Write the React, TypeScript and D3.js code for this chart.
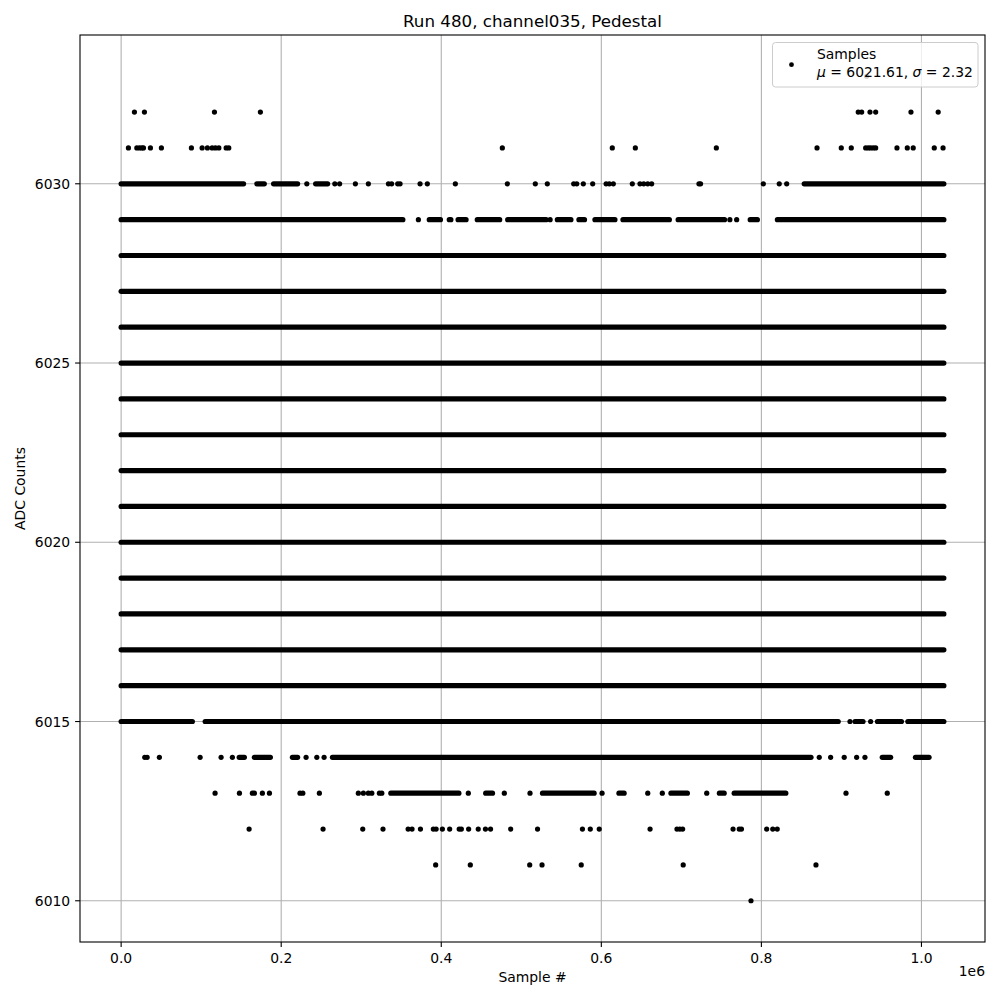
import React from "react";
import * as d3 from "d3";

// ---------- data (sample index, ADC level) ----------
const N_SAMPLES = 1028000;
const xTicks = [0, 200000, 400000, 600000, 800000, 1000000];
const xTickLabels = ["0.0", "0.2", "0.4", "0.6", "0.8", "1.0"];
const yTicks = [6010, 6015, 6020, 6025, 6030];
const title = "Run 480, channel035, Pedestal";
const legendLabel = "Samples";
const meanValue = "6021.61";
const sigmaValue = "2.32";

// levels whose samples form a continuous band across the whole run
const fullRows = [6016, 6017, 6018, 6019, 6020, 6021, 6022, 6023, 6024, 6025, 6026, 6027, 6028];

// dense stretches [start, end] and isolated samples for the remaining levels
const runs6030: [number, number][] = [[0, 153000], [169600, 178900], [190500, 220500], [243000, 258000], [853500, N_SAMPLES]];
const points6030 = [232000, 267000, 273000, 292700, 308900, 334000, 338000, 345600, 348500, 373500, 382600, 417600, 482600, 517500, 532500, 565500, 569300, 577500, 589200, 606000, 610000, 615000, 638700, 648300, 653000, 658000, 662900, 722000, 724000, 802400, 822300, 831600];

const runs6029: [number, number][] = [[0, 352000], [385000, 399000], [410000, 412000], [421000, 431000], [445000, 473000], [483000, 531000], [545000, 562000], [572000, 579000], [592000, 617000], [627000, 685000], [696000, 754000], [786000, 795000], [820000, N_SAMPLES]];
const points6029 = [371400, 536000, 760600, 769100];

const runs6015: [number, number][] = [[0, 89000], [105000, 896000], [917000, 927000], [945000, 975000], [983000, N_SAMPLES]];
const points6015 = [910700, 936500];

const runs6014: [number, number][] = [[147500, 154000], [166500, 186500], [214000, 220500], [264000, 862000], [951000, 961500], [992500, 1009500]];
const points6014 = [29500, 32500, 47800, 98700, 124900, 139000, 231100, 244500, 253600, 872300, 886500, 903500, 919000, 929400];

const runs6013: [number, number][] = [[164000, 166500], [337000, 422000], [455500, 464000], [526500, 591000], [622000, 628500], [687000, 707500], [747500, 753500], [766000, 830500]];
const points6013 = [117400, 147800, 176500, 185300, 223500, 227000, 247700, 296400, 302700, 308900, 313200, 322700, 325700, 433800, 478800, 510900, 600900, 658000, 676200, 731700, 905700, 957300];

const points6012 = [159900, 252300, 301900, 327200, 358600, 363500, 374000, 390100, 393600, 401400, 410500, 422400, 425100, 434200, 446200, 455200, 461600, 486700, 520300, 576400, 586200, 597400, 660900, 694500, 698100, 701600, 764600, 772300, 775100, 806600, 814200, 819800];
const points6011 = [393000, 436300, 510500, 525900, 574900, 702300, 868200];
const points6010 = [787000];

const points6031 = [9100, 19600, 22900, 25900, 27900, 36600, 50300, 87800, 101200, 107800, 113700, 117800, 122100, 131200, 134500, 476300, 613700, 642500, 743700, 869500, 899800, 912300, 930300, 933500, 936500, 939800, 942800, 969400, 982300, 989700, 1016000, 1027000];
const points6032 = [16600, 29100, 116600, 174000, 921000, 925300, 935700, 942800, 986900, 1020900];
const points6033 = [931500];

type Row = { level: number; runs: [number, number][]; points: number[] };
const rows: Row[] = [
  ...fullRows.map((level) => ({ level, runs: [[0, N_SAMPLES]] as [number, number][], points: [] as number[] })),
  { level: 6030, runs: runs6030, points: points6030 },
  { level: 6029, runs: runs6029, points: points6029 },
  { level: 6015, runs: runs6015, points: points6015 },
  { level: 6014, runs: runs6014, points: points6014 },
  { level: 6013, runs: runs6013, points: points6013 },
  { level: 6012, runs: [], points: points6012 },
  { level: 6011, runs: [], points: points6011 },
  { level: 6010, runs: [], points: points6010 },
  { level: 6031, runs: [], points: points6031 },
  { level: 6032, runs: [], points: points6032 },
  { level: 6033, runs: [], points: points6033 },
];

// ---------- layout ----------
const W = 1000, H = 1000;
const L = 80, R = 985, T = 35, B = 942;
const FONT = "DejaVu Sans, sans-serif";
const FS = 13.9;
const DOT_R = 2.6;

export default function App() {
  const x = d3.scaleLinear().domain([-0.05 * N_SAMPLES, 1.05 * N_SAMPLES]).range([L, R]);
  const y = d3.scaleLinear().domain([6008.85, 6034.15]).range([B, T]);
  const grid = "#b0b0b0";

  return (
    <svg width={W} height={H} style={{ position: "absolute", left: 0, top: 0, background: "#fff" }} fontFamily={FONT}>
      <rect x={0} y={0} width={W} height={H} fill="#fff" />
      {/* grid */}
      {xTicks.map((t) => (
        <line key={"gx" + t} x1={x(t)} x2={x(t)} y1={T} y2={B} stroke={grid} strokeWidth={1.1} />
      ))}
      {yTicks.map((t) => (
        <line key={"gy" + t} x1={L} x2={R} y1={y(t)} y2={y(t)} stroke={grid} strokeWidth={1.1} />
      ))}
      {/* data */}
      <g>
        {rows.map((row) => (
          <g key={"r" + row.level}>
            {row.runs.map(([a, b], i) => (
              <line key={"l" + i} x1={x(a)} x2={x(b)} y1={y(row.level)} y2={y(row.level)} stroke="#000" strokeWidth={DOT_R * 2} strokeLinecap="round" />
            ))}
            {row.points.map((p, i) => (
              <circle key={"p" + i} cx={x(p)} cy={y(row.level)} r={DOT_R} fill="#000" />
            ))}
          </g>
        ))}
      </g>
      {/* frame */}
      <rect x={L} y={T} width={R - L} height={B - T} fill="none" stroke="#000" strokeWidth={1.1} />
      {/* x ticks */}
      {xTicks.map((t, i) => (
        <g key={"xt" + t}>
          <line x1={x(t)} x2={x(t)} y1={B} y2={B + 4.9} stroke="#000" strokeWidth={1.1} />
          <text x={x(t)} y={B + 20.5} textAnchor="middle" fontSize={FS} fill="#000">{xTickLabels[i]}</text>
        </g>
      ))}
      <text x={R} y={B + 34} textAnchor="end" fontSize={FS} fill="#000">1e6</text>
      {/* y ticks */}
      {yTicks.map((t) => (
        <g key={"yt" + t}>
          <line x1={L - 4.9} x2={L} y1={y(t)} y2={y(t)} stroke="#000" strokeWidth={1.1} />
          <text x={L - 9.8} y={y(t) + 5} textAnchor="end" fontSize={FS} fill="#000">{t}</text>
        </g>
      ))}
      {/* labels */}
      <text x={(L + R) / 2} y={982} textAnchor="middle" fontSize={FS} fill="#000">Sample #</text>
      <text transform={`translate(25,${(T + B) / 2}) rotate(-90)`} textAnchor="middle" fontSize={FS} fill="#000">ADC Counts</text>
      <text x={(L + R) / 2} y={26.7} textAnchor="middle" fontSize={16.7} fill="#000">{title}</text>
      {/* legend */}
      <rect x={772.5} y={42.5} width={205.5} height={44.5} rx={3} ry={3} fill="#fff" fillOpacity={0.8} stroke="#cccccc" strokeWidth={1} />
      <circle cx={791.5} cy={64.7} r={2.4} fill="#000" />
      <text x={817} y={59} fontSize={FS} fill="#000">{legendLabel}</text>
      <text x={817} y={76.5} fontSize={FS} fill="#000">
        <tspan fontStyle="italic">μ</tspan>
        <tspan>{` = ${meanValue}, `}</tspan>
        <tspan fontStyle="italic">σ</tspan>
        <tspan>{` = ${sigmaValue}`}</tspan>
      </text>
    </svg>
  );
}
